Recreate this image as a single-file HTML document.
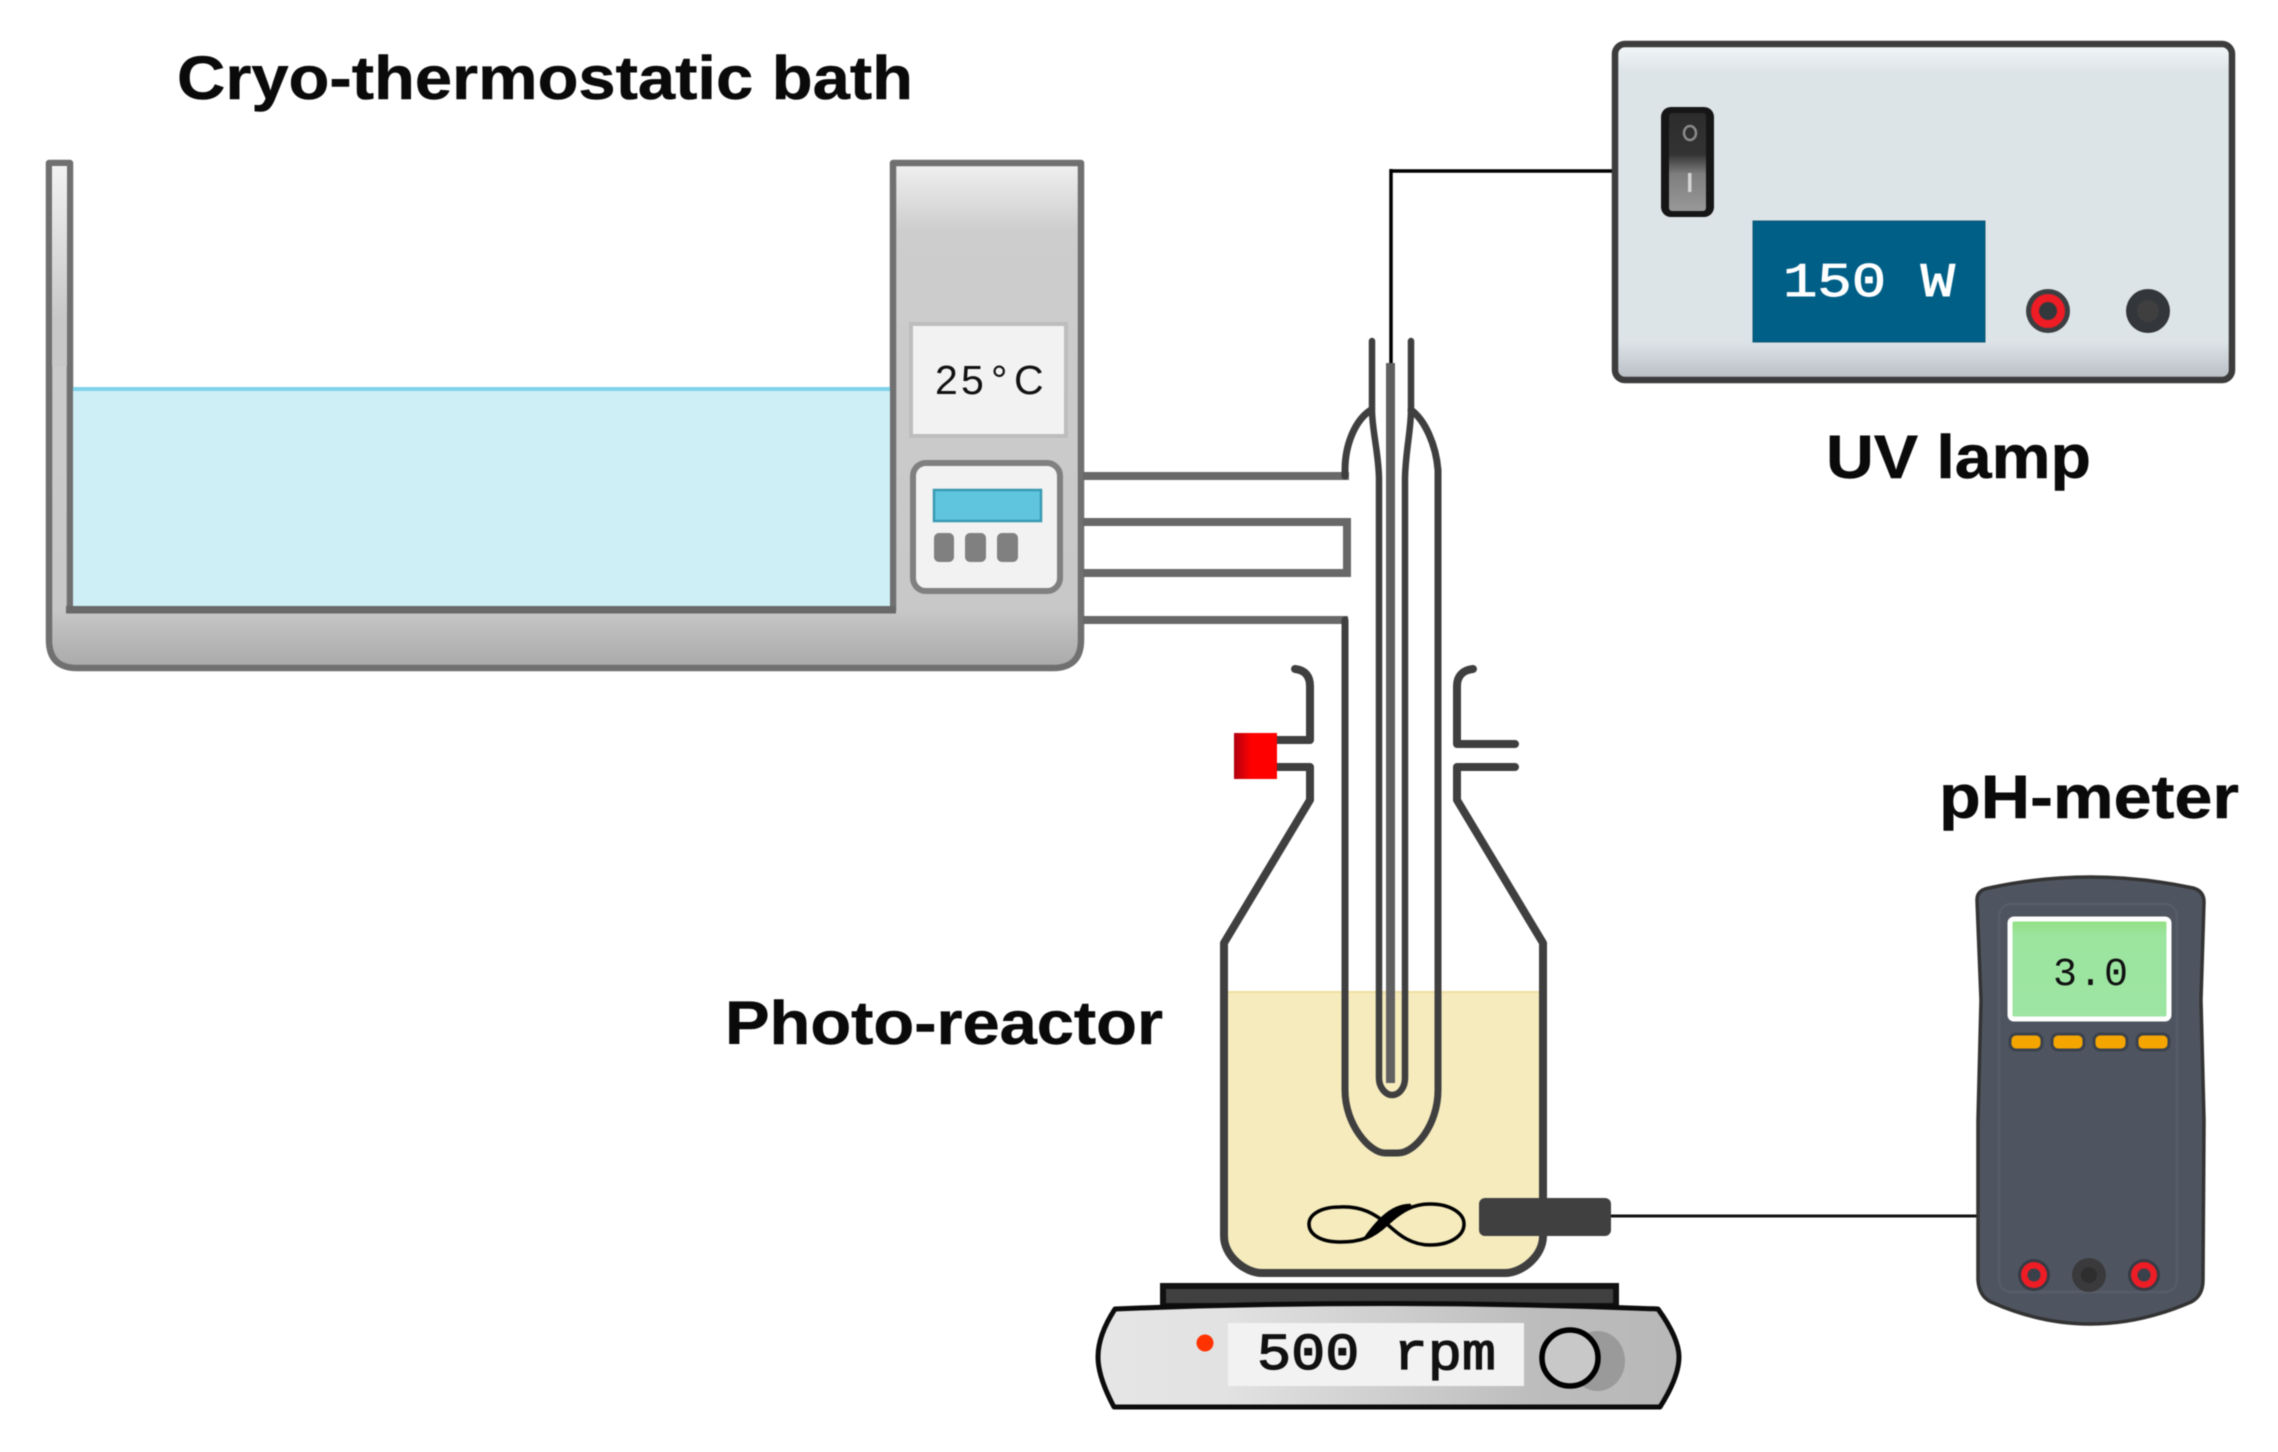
<!DOCTYPE html>
<html><head><meta charset="utf-8"><style>
html,body{margin:0;padding:0;background:#fff}
svg{display:block;filter:blur(.6px)}
.l{font-family:"Liberation Sans",sans-serif;font-weight:700;fill:#0a0a0a;stroke:#0a0a0a;stroke-width:.5}
.m{font-family:"Liberation Mono",monospace}
</style></head><body>
<svg xmlns="http://www.w3.org/2000/svg" width="2278" height="1452" viewBox="0 0 2278 1452">
<defs>
<linearGradient id="tw" x1="0" y1="160" x2="0" y2="670" gradientUnits="userSpaceOnUse">
<stop offset="0" stop-color="#f2f2f2"/><stop offset=".14" stop-color="#cdcdcd"/><stop offset=".88" stop-color="#c8c8c8"/><stop offset="1" stop-color="#a8a8a8"/></linearGradient>
<linearGradient id="wl" x1="0" y1="160" x2="0" y2="320" gradientUnits="userSpaceOnUse">
<stop offset="0" stop-color="#f4f4f4"/><stop offset="1" stop-color="#c8c8c8"/></linearGradient>
<linearGradient id="box" x1="0" y1="41" x2="0" y2="382" gradientUnits="userSpaceOnUse">
<stop offset="0" stop-color="#f6f9fb"/><stop offset=".09" stop-color="#dde4e8"/><stop offset=".88" stop-color="#dde4e8"/><stop offset="1" stop-color="#b6bcc2"/></linearGradient>
<linearGradient id="sw" x1="0" y1="112" x2="0" y2="212" gradientUnits="userSpaceOnUse">
<stop offset="0" stop-color="#2c2c2c"/><stop offset=".42" stop-color="#333"/><stop offset=".62" stop-color="#7e7e7e"/><stop offset="1" stop-color="#999"/></linearGradient>
<linearGradient id="red" x1="1234" y1="0" x2="1277" y2="0" gradientUnits="userSpaceOnUse">
<stop offset="0" stop-color="#b00010"/><stop offset=".4" stop-color="#ff0000"/><stop offset="1" stop-color="#ff0000"/></linearGradient>
<linearGradient id="st" x1="1096" y1="0" x2="1680" y2="0" gradientUnits="userSpaceOnUse">
<stop offset="0" stop-color="#e6e6e6"/><stop offset=".22" stop-color="#e2e2e2"/><stop offset=".75" stop-color="#bdbdbd"/><stop offset="1" stop-color="#b8b8b8"/></linearGradient>
<linearGradient id="scr" x1="0" y1="922" x2="0" y2="1016" gradientUnits="userSpaceOnUse">
<stop offset="0" stop-color="#93e086"/><stop offset=".15" stop-color="#9be59f"/><stop offset="1" stop-color="#9ee5a3"/></linearGradient>
</defs>

<!-- Labels -->
<text class="l" x="177" y="99" font-size="61" textLength="736" lengthAdjust="spacingAndGlyphs">Cryo-thermostatic bath</text>
<text class="l" x="1826" y="478" font-size="61" textLength="265" lengthAdjust="spacingAndGlyphs">UV lamp</text>
<text class="l" x="725" y="1044" font-size="61" textLength="438" lengthAdjust="spacingAndGlyphs">Photo-reactor</text>
<text class="l" x="1939" y="818" font-size="61" textLength="300" lengthAdjust="spacingAndGlyphs">pH-meter</text>

<!-- Bath -->
<path d="M49 163H70V610H893V163H1081V640Q1081 668 1053 668H77Q49 668 49 640Z" fill="url(#tw)" stroke="#707070" stroke-width="6.5" stroke-linejoin="round"/>
<rect x="52" y="166" width="15" height="200" fill="url(#wl)"/>
<rect x="73" y="389" width="817" height="217" fill="#cfeff6"/>
<rect x="73" y="387" width="817" height="4" fill="#7fd3ea"/>
<rect x="66" y="606" width="830" height="7.5" fill="#696969"/>
<rect x="911" y="324" width="155" height="112" fill="#f2f2f2" stroke="#bdbdbd" stroke-width="4"/>
<text x="935 961 991 1014" y="394" font-family="Liberation Sans,sans-serif" font-size="41" fill="#111">25°C</text>
<rect x="913" y="463" width="147" height="128" rx="13" fill="#f2f2f2" stroke="#808080" stroke-width="6"/>
<rect x="934" y="490" width="107" height="31" fill="#5fc5de" stroke="#3a9ab3" stroke-width="2.5"/>
<rect x="934" y="533" width="20" height="29" rx="5" fill="#808080"/>
<rect x="965" y="533" width="21" height="29" rx="5" fill="#808080"/>
<rect x="997" y="533" width="21" height="29" rx="5" fill="#808080"/>

<!-- Liquid -->
<path d="M1227 992H1540V1236Q1540 1271 1503 1271H1262Q1227 1271 1227 1236Z" fill="#f5ebbd"/>
<rect x="1227" y="991" width="313" height="2" fill="#efdfa0"/>

<!-- Hoses -->
<g fill="none" stroke="#686868" stroke-width="8">
<path d="M1083 476H1349"/><path d="M1083 522H1347V573H1083"/><path d="M1083 620H1348"/>
</g>

<!-- Jacket & lamp -->
<g fill="none" stroke="#3f3f3f" stroke-linecap="round">
<path stroke-width="7" d="M1345 476V470C1345 445 1355 420 1371 410"/>
<path stroke-width="7" d="M1345 620V1090C1345 1125 1370 1153 1385 1153H1398C1415 1153 1438 1125 1438 1090V470C1436 445 1425 420 1411 410"/>
<path stroke-width="6.5" d="M1372 341V410C1372 430 1379 455 1379 480V1078C1379 1088 1386 1095 1392 1095C1399 1095 1405 1088 1405 1078V480C1405 455 1411 430 1411 410V341"/>
</g>
<path d="M1391 169V364" stroke="#000" stroke-width="3.5" fill="none"/>
<rect x="1386" y="363" width="9" height="720" fill="#606060"/>

<!-- Flask -->
<g fill="none" stroke="#3f3f3f" stroke-width="8" stroke-linejoin="round" stroke-linecap="round">
<path d="M1277 767H1310V800L1224 943V1236C1224 1256 1245 1273 1262 1273H1505C1522 1273 1543 1256 1543 1236V943L1457 800V767H1515"/>
<path d="M1295 669C1305 670 1310 676 1310 686V740H1277"/>
<path d="M1473 669C1463 670 1457 676 1457 686V744H1515"/>
</g>
<rect x="1234" y="733" width="43" height="46" fill="url(#red)"/>

<!-- Stir bar -->
<path d="M1387 1224C1375 1214 1362 1206 1340 1207C1320 1207 1309 1215 1309 1224C1309 1234 1320 1242 1340 1242C1360 1242 1372 1238 1387 1224C1402 1210 1414 1204 1430 1204C1450 1204 1464 1213 1464 1224C1464 1236 1450 1245 1430 1245C1412 1245 1400 1236 1387 1224Z" fill="none" stroke="#000" stroke-width="3.5"/>
<path d="M1365 1238C1380 1234 1392 1212 1410 1205C1392 1205 1378 1220 1365 1238Z" fill="#000" stroke="#000" stroke-width="2.5" stroke-linejoin="round"/>

<!-- Probe -->
<rect x="1479" y="1198" width="132" height="38" rx="6" fill="#404040"/>
<path d="M1611 1216H1978" stroke="#111" stroke-width="3"/>

<!-- Stirrer -->
<rect x="1163" y="1286" width="453" height="20" fill="#404040" stroke="#111" stroke-width="6"/>
<path d="M1115 1309Q1380 1298 1658 1309Q1679 1338 1679 1357Q1679 1377 1660 1407H1114Q1098 1377 1098 1357Q1098 1335 1115 1309Z" fill="url(#st)" stroke="#0c0c0c" stroke-width="5" stroke-linejoin="round"/>
<rect x="1228" y="1323" width="296" height="63" fill="#f2f2f2"/>
<text class="m" x="1257" y="1369" font-size="52" fill="#111" stroke="#111" stroke-width="1.3" textLength="239" lengthAdjust="spacingAndGlyphs">500 rpm</text>
<circle cx="1205" cy="1343" r="8.5" fill="#ff3300"/>
<rect x="1570" y="1331" width="55" height="60" rx="30" fill="#9a9a9a"/>
<circle cx="1570" cy="1358" r="28" fill="#c8c8c8" stroke="#000" stroke-width="5.5"/>

<!-- UV box -->
<path d="M1391 171H1615" stroke="#000" stroke-width="3.5" fill="none"/>
<rect x="1615" y="44" width="617" height="336" rx="10" fill="url(#box)" stroke="#3c3c3c" stroke-width="6.5"/>
<rect x="1661" y="107" width="53" height="110" rx="10" fill="#161616"/>
<rect x="1669" y="113" width="37" height="98" rx="3" fill="url(#sw)"/>
<ellipse cx="1690" cy="133" rx="6" ry="7" fill="none" stroke="#8a8a8a" stroke-width="2.5"/>
<rect x="1688" y="173" width="3.5" height="19" fill="#d4d4d4"/>
<rect x="1753" y="221" width="232" height="121" fill="#005f87" stroke="#0e5873" stroke-width="1"/>
<text class="m" x="1783" y="296" font-size="48" fill="#fff" stroke="#fff" stroke-width=".9" textLength="172" lengthAdjust="spacingAndGlyphs">150 W</text>
<circle cx="2048" cy="311" r="22" fill="#3b3f42"/><circle cx="2048" cy="311" r="17" fill="#ee1c25"/><circle cx="2048" cy="311" r="9" fill="#33383c"/>
<circle cx="2148" cy="311" r="22" fill="#33363a"/><circle cx="2148" cy="311" r="11" fill="#3f3f3f"/>

<!-- pH meter -->
<path d="M1977 900Q1977 890 1989 888Q2090 866 2193 888Q2204 891 2204 902L2201 1000L2204 1120L2203 1280Q2203 1296 2191 1302Q2090 1346 1991 1302Q1979 1296 1978 1280V1120L1981 1000Z" fill="#4f5560" stroke="#333" stroke-width="3.5"/>
<rect x="1999" y="904" width="178" height="388" rx="12" fill="none" stroke="#575d68" stroke-width="2.5"/>
<rect x="2010" y="919" width="159" height="100" rx="4" fill="url(#scr)" stroke="#fff" stroke-width="5"/>
<text class="m" x="2053" y="985" font-size="40" fill="#111" textLength="75">3.0</text>
<g fill="#f5a500" stroke="#3b424d" stroke-width="3">
<rect x="2010" y="1034" width="32" height="16" rx="6"/>
<rect x="2052" y="1034" width="32" height="16" rx="6"/>
<rect x="2094" y="1034" width="33" height="16" rx="6"/>
<rect x="2137" y="1034" width="32" height="16" rx="6"/>
</g>
<circle cx="2034" cy="1275" r="16" fill="#363b44"/><circle cx="2034" cy="1275" r="13" fill="#ee1c25"/><circle cx="2034" cy="1275" r="6.5" fill="#3a414b"/>
<circle cx="2089" cy="1275" r="17" fill="#3a3a3c"/><circle cx="2089" cy="1275" r="8" fill="#2e2e2e"/>
<circle cx="2144" cy="1275" r="16" fill="#363b44"/><circle cx="2144" cy="1275" r="13" fill="#ee1c25"/><circle cx="2144" cy="1275" r="6.5" fill="#3a414b"/>
</svg>
</body></html>
